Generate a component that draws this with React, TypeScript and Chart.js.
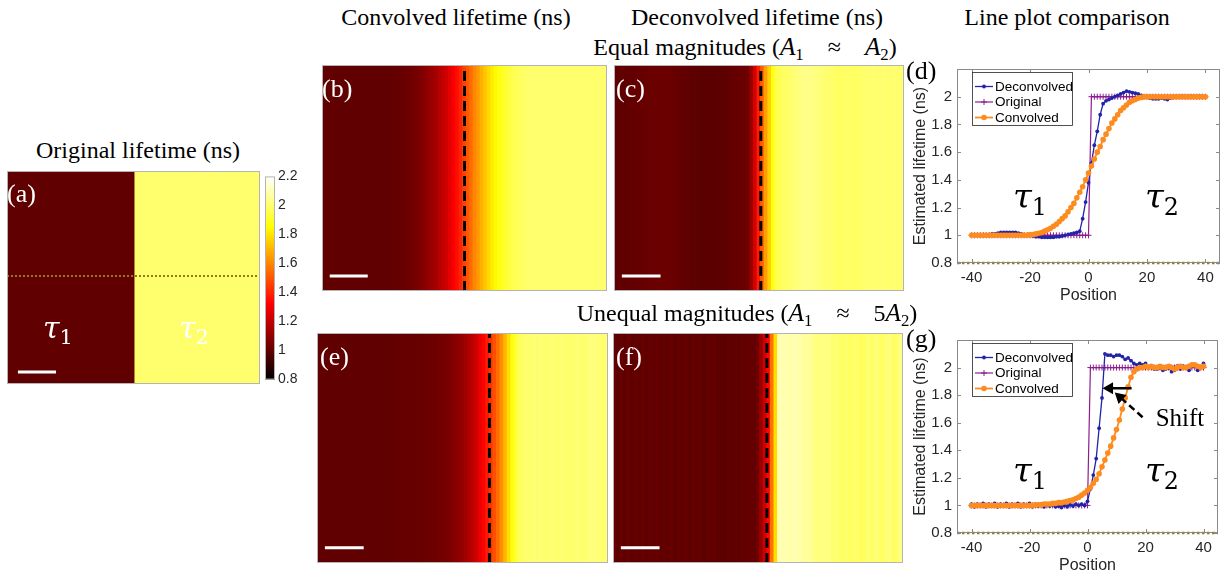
import React, { useEffect, useRef } from "react";
import { Chart, registerables } from "chart.js";

Chart.register(...registerables);

// ---------------- data ----------------
const positions = [
  -40, -39, -38, -37, -36, -35, -34, -33, -32, -31,
  -30, -29, -28, -27, -26, -25, -24, -23, -22, -21,
  -20, -19, -18, -17, -16, -15, -14, -13, -12, -11,
  -10, -9, -8, -7, -6, -5, -4, -3, -2, -1,
  0, 1, 2, 3, 4, 5, 6, 7, 8, 9,
  10, 11, 12, 13, 14, 15, 16, 17, 18, 19,
  20, 21, 22, 23, 24, 25, 26, 27, 28, 29,
  30, 31, 32, 33, 34, 35, 36, 37, 38, 39, 40,
];

const originalProfile = [
  1, 1, 1, 1, 1, 1, 1, 1, 1, 1,
  1, 1, 1, 1, 1, 1, 1, 1, 1, 1,
  1, 1, 1, 1, 1, 1, 1, 1, 1, 1,
  1, 1, 1, 1, 1, 1, 1, 1, 1, 1,
  1, 2, 2, 2, 2, 2, 2, 2, 2, 2,
  2, 2, 2, 2, 2, 2, 2, 2, 2, 2,
  2, 2, 2, 2, 2, 2, 2, 2, 2, 2,
  2, 2, 2, 2, 2, 2, 2, 2, 2, 2, 2,
];

// equal magnitudes (panels b, c, d)
const convolvedEqual = [
  1.0, 1.0, 1.0, 1.0, 1.0, 1.0, 1.0, 1.0, 1.0, 1.0,
  1.0, 1.0, 1.0, 1.0, 1.0, 1.0, 1.0, 1.0, 1.0, 1.0,
  1.005, 1.005, 1.01, 1.015, 1.02, 1.03, 1.04, 1.05, 1.065, 1.08,
  1.1, 1.12, 1.14, 1.17, 1.2, 1.23, 1.27, 1.31, 1.35, 1.4,
  1.45, 1.5, 1.55, 1.6, 1.64, 1.69, 1.73, 1.77, 1.81, 1.84,
  1.87, 1.9, 1.92, 1.94, 1.96, 1.97, 1.98, 1.99, 1.995, 2.0,
  2.0, 2.0, 2.0, 2.0, 2.0, 2.0, 2.0, 2.0, 2.0, 2.0,
  2.0, 2.0, 2.0, 2.0, 2.0, 2.0, 2.0, 2.0, 2.0, 2.0, 2.0,
];
const deconvolvedEqual = [
  1.0, 1.0, 1.0, 1.0, 1.005, 1.0, 1.005, 1.01, 1.01, 1.015,
  1.02, 1.02, 1.02, 1.02, 1.02, 1.02, 1.015, 1.01, 1.005, 1.0,
  1.0, 0.995, 0.99, 0.99, 0.985, 0.985, 0.985, 0.985, 0.985, 0.99,
  0.99, 0.995, 1.0, 1.005, 1.01, 1.015, 1.02, 1.03, 1.12, 1.24,
  1.38, 1.52, 1.65, 1.75, 1.87, 1.95, 1.97, 1.98, 1.99, 2.0,
  2.01, 2.02, 2.03, 2.04, 2.035, 2.03, 2.025, 2.02, 2.01, 2.0,
  2.0, 1.99, 1.985, 1.985, 1.985, 1.99, 1.985, 1.98, 1.99, 1.995,
  2.0, 2.0, 2.005, 2.0, 2.0, 2.005, 2.0, 2.0, 2.005, 2.0, 2.0,
];

// unequal magnitudes (panels e, f, g)
const convolvedUnequal = [
  1.0, 1.0, 1.0, 1.0, 1.0, 1.0, 1.0, 1.0, 1.0, 1.0,
  1.0, 1.0, 1.0, 1.0, 1.0, 1.0, 1.0, 1.0, 1.0, 1.0,
  1.0, 1.0, 1.005, 1.005, 1.005, 1.01, 1.01, 1.01, 1.015, 1.015,
  1.02, 1.02, 1.025, 1.03, 1.035, 1.04, 1.05, 1.06, 1.075, 1.09,
  1.11, 1.13, 1.16, 1.19, 1.23, 1.28, 1.33, 1.38, 1.43, 1.49,
  1.55, 1.62, 1.7, 1.78, 1.86, 1.93, 1.97, 1.99, 2.0, 2.0,
  2.01, 2.0, 2.01, 2.0, 2.0, 2.01, 2.0, 2.0, 2.01, 2.0,
  1.99, 2.0, 2.01, 2.0, 2.0, 2.01, 2.02, 2.02, 2.01, 2.0, 2.01,
];
const deconvolvedUnequal = [
  1.01, 0.99, 1.01, 0.995, 1.015, 0.99, 1.01, 0.995, 1.015, 0.99,
  1.01, 1.0, 1.015, 0.99, 1.01, 0.995, 1.015, 0.99, 1.01, 0.995,
  1.015, 0.99, 1.01, 0.995, 1.01, 0.99, 1.005, 0.995, 1.005, 0.99,
  0.995, 0.985, 1.0, 0.99, 1.005, 0.995, 1.01, 1.0, 1.01, 1.0,
  1.03, 1.12, 1.22, 1.34, 1.56, 1.78, 2.1, 2.09, 2.09, 2.08,
  2.09, 2.09, 2.08, 2.06, 2.07, 2.05, 2.03, 2.02, 2.03, 2.02,
  2.03, 2.0, 2.01, 1.99, 1.99, 2.0, 1.98, 1.99, 2.0, 1.97,
  1.98, 2.01, 1.99, 2.01, 2.0, 1.98, 2.01, 2.02, 1.98, 2.0, 2.03,
];

const yTicks = [0.8, 1, 1.2, 1.4, 1.6, 1.8, 2];
const xTicks = [-40, -20, 0, 20, 40];
const colorbarTicks = [0.8, 1, 1.2, 1.4, 1.6, 1.8, 2, 2.2];

// dashed edge markers on the lifetime maps (position units)
const edgeB = 0;
const edgeC = 0.5;
const edgeE = 7.5;
const edgeF = 2.5;

// line-profile row (dotted) and its trace on the line plots
const profileRowX = [-40.5, 40.5];
const profileRowY = [0.507, 0.507];
const profileLineX = [-45, 45];
const profileLineY = [0.8, 0.8];

// scale bars (position units / relative image height)
const scaleBarAX = [-37, -24.8];
const scaleBarAY = [0.056, 0.056];
const scaleBarX = [-38.3, -27.5];
const scaleBarY = [0.066, 0.066];

// "Shift" arrows on panel (g)
const shiftArrowX = [15.2, 7.6];
const shiftArrowY = [1.85, 1.85];
const shiftPointerX = [19.0, 11.2];
const shiftPointerY = [1.64, 1.786];

// ---------------- styling helpers ----------------
const SANS = "'Liberation Sans', Arial, Helvetica, sans-serif";
const SERIF = "'Liberation Serif', 'Times New Roman', serif";
const MATH = "'DejaVu Serif', 'Liberation Serif', serif";
const BLUE = "#2323a8";
const PURPLE = "#8c1d8f";
const ORANGE = "#fd8b1e";
const OLIVE = "#957a18";
const AXIS = "#262626";

Chart.defaults.font.family = SANS;
Chart.defaults.color = AXIS;

const clamp = (v: number) => Math.min(1, Math.max(0, v));
function hot(v: number): string {
  const t = clamp((v - 0.8) / 1.4);
  const r = clamp(t / 0.375);
  const g = clamp((t - 0.375) / 0.375);
  const b = clamp((t - 0.75) / 0.25);
  return `rgb(${Math.round(r * 255)},${Math.round(g * 255)},${Math.round(b * 255)})`;
}

const fmt = (v: any) => String(Math.round(Number(v) * 10) / 10);
const pts = (xs: number[], ys: number[]) => xs.map((x, i) => ({ x, y: ys[i] }));

const framePlugin = {
  id: "frame",
  afterDatasetsDraw(chart: any, _args: any, opts: any) {
    if (!opts || !opts.color) return;
    const { ctx, chartArea: a } = chart;
    ctx.save();
    ctx.strokeStyle = opts.color;
    ctx.lineWidth = 1;
    ctx.setLineDash([]);
    ctx.strokeRect(a.left + 0.5, a.top + 0.5, a.right - a.left - 1, a.bottom - a.top - 1);
    if (opts.ticks) {
      const len = 4;
      ctx.beginPath();
      const sx = chart.scales.x;
      const sy = chart.scales.y;
      sx.ticks.forEach((t: any) => {
        const p = Math.round(sx.getPixelForValue(t.value)) + 0.5;
        ctx.moveTo(p, a.bottom); ctx.lineTo(p, a.bottom - len);
        ctx.moveTo(p, a.top); ctx.lineTo(p, a.top + len);
      });
      sy.ticks.forEach((t: any) => {
        const p = Math.round(sy.getPixelForValue(t.value)) + 0.5;
        ctx.moveTo(a.left, p); ctx.lineTo(a.left + len, p);
        ctx.moveTo(a.right, p); ctx.lineTo(a.right - len, p);
      });
      ctx.stroke();
    }
    ctx.restore();
  },
};

const boxLegendPlugin = {
  id: "boxLegend",
  afterDraw(chart: any, _args: any, opts: any) {
    if (!opts || !opts.display) return;
    const { ctx, chartArea: a } = chart;
    const items = chart.data.datasets.filter((d: any) => d.inLegend);
    const x0 = a.left + 15;
    const y0 = a.top + 3;
    const w = 100;
    const h = 53;
    ctx.save();
    ctx.fillStyle = "#fff";
    ctx.fillRect(x0, y0, w, h);
    ctx.strokeStyle = AXIS;
    ctx.lineWidth = 0.8;
    ctx.strokeRect(x0 + 0.5, y0 + 0.5, w, h);
    items.forEach((d: any, i: number) => {
      const cy = a.top + 17.5 + i * 15.5;
      ctx.strokeStyle = d.borderColor;
      ctx.lineWidth = d.borderWidth;
      ctx.beginPath();
      ctx.moveTo(x0 + 3, cy);
      ctx.lineTo(x0 + 21, cy);
      ctx.stroke();
      const mx = x0 + 12;
      if (d.pointStyle === "cross") {
        ctx.lineWidth = 1;
        ctx.beginPath();
        ctx.moveTo(mx - 3, cy); ctx.lineTo(mx + 3, cy);
        ctx.moveTo(mx, cy - 3); ctx.lineTo(mx, cy + 3);
        ctx.stroke();
      } else {
        ctx.fillStyle = d.pointBackgroundColor;
        ctx.beginPath();
        ctx.arc(mx, cy, d.pointRadius, 0, Math.PI * 2);
        ctx.fill();
      }
      ctx.fillStyle = "#000";
      ctx.font = `13.5px ${SANS}`;
      ctx.textBaseline = "middle";
      ctx.fillText(d.label, x0 + 23, cy + 0.5);
    });
    ctx.restore();
  },
};

function heatmapConfig(
  profile: number[],
  edge: number | null,
  barX: number[],
  barY: number[],
  extra: any[] = []
) {
  const datasets: any[] = [
    {
      type: "bar",
      data: positions.map((x) => ({ x, y: [0, 1] })),
      backgroundColor: profile.map(hot),
      borderWidth: 0,
      barPercentage: 1,
      categoryPercentage: 1,
      inflateAmount: 0.6,
      order: 5,
    },
  ];
  if (edge !== null) {
    datasets.push({
      type: "line",
      data: [{ x: edge, y: 0 }, { x: edge, y: 1 }],
      borderColor: "#000",
      borderWidth: 3,
      borderDash: [10, 5],
      borderCapStyle: "butt",
      pointRadius: 0,
      order: 1,
    });
  }
  datasets.push({
    type: "line",
    data: pts(barX, barY),
    borderColor: "#fff",
    borderWidth: 3,
    pointRadius: 0,
    order: 1,
  });
  extra.forEach((d) => datasets.push(d));
  return {
    type: "bar",
    data: { datasets },
    options: {
      responsive: false,
      animation: false,
      events: [],
      layout: { padding: 0 },
      scales: {
        x: { type: "linear", min: -40.5, max: 40.5, offset: false, display: false },
        y: { min: 0, max: 1, display: false },
      },
      plugins: {
        legend: { display: false },
        tooltip: { enabled: false },
        frame: { color: "#b4b4b4" },
      },
    },
    plugins: [framePlugin],
  };
}

function colorbarConfig() {
  return {
    type: "bar",
    data: {
      labels: ["lifetime"],
      datasets: [
        {
          data: [[0.8, 2.2]],
          borderWidth: 0,
          barPercentage: 1,
          categoryPercentage: 1,
          backgroundColor: (c: any) => {
            const area = c.chart.chartArea;
            if (!area) return "#000";
            const g = c.chart.ctx.createLinearGradient(0, area.bottom, 0, area.top);
            g.addColorStop(0, hot(0.8));
            g.addColorStop(0.375, hot(0.8 + 0.375 * 1.4));
            g.addColorStop(0.75, hot(0.8 + 0.75 * 1.4));
            g.addColorStop(1, hot(2.2));
            return g;
          },
        },
      ],
    },
    options: {
      responsive: false,
      animation: false,
      events: [],
      layout: { padding: { top: 6, bottom: 7, left: 0, right: 0 } },
      scales: {
        x: { display: false },
        y: {
          position: "right",
          min: 0.8,
          max: 2.2,
          afterBuildTicks: (s: any) => {
            s.ticks = colorbarTicks.map((v) => ({ value: v }));
          },
          afterFit: (s: any) => {
            s.width = 35;
          },
          grid: { display: false, drawTicks: false, tickLength: 0 },
          border: { display: false },
          ticks: { font: { size: 14 }, color: AXIS, padding: 3, callback: fmt },
        },
      },
      plugins: {
        legend: { display: false },
        tooltip: { enabled: false },
        frame: { color: "#b4b4b4" },
      },
    },
    plugins: [framePlugin],
  };
}

function lineConfig(deconv: number[], conv: number[], extra: any[] = []) {
  const datasets: any[] = [
    {
      label: "Deconvolved",
      inLegend: true,
      data: pts(positions, deconv),
      borderColor: BLUE,
      backgroundColor: BLUE,
      pointBackgroundColor: BLUE,
      pointBorderColor: BLUE,
      borderWidth: 1.3,
      pointRadius: 1.9,
      pointBorderWidth: 0,
      pointStyle: "circle",
      order: 2,
    },
    {
      label: "Original",
      inLegend: true,
      data: pts(positions, originalProfile),
      borderColor: PURPLE,
      backgroundColor: PURPLE,
      pointBorderColor: PURPLE,
      borderWidth: 1.2,
      pointStyle: "cross",
      pointRadius: 3,
      pointBorderWidth: 1,
      order: 3,
    },
    {
      label: "Convolved",
      inLegend: true,
      data: pts(positions, conv),
      borderColor: ORANGE,
      backgroundColor: ORANGE,
      pointBackgroundColor: ORANGE,
      pointBorderColor: ORANGE,
      borderWidth: 1.8,
      pointRadius: 2.8,
      pointBorderWidth: 0,
      pointStyle: "circle",
      order: 1,
    },
    {
      label: "profile",
      data: pts(profileLineX, profileLineY),
      borderColor: OLIVE,
      borderWidth: 2.5,
      borderDash: [2.5, 2.5],
      pointRadius: 0,
      clip: false,
      order: 0,
    },
  ];
  extra.forEach((d) => datasets.push(d));
  return {
    type: "line",
    data: { datasets },
    options: {
      responsive: false,
      animation: false,
      events: [],
      layout: { padding: { top: 13, right: 5, bottom: 2, left: 0 } },
      elements: { line: { tension: 0 } },
      scales: {
        x: {
          type: "linear",
          min: -45,
          max: 45,
          afterBuildTicks: (s: any) => {
            s.ticks = xTicks.map((v) => ({ value: v }));
          },
          afterFit: (s: any) => {
            s.height = 45;
          },
          grid: { display: false, drawTicks: false, tickLength: 0 },
          border: { display: false },
          ticks: { font: { size: 15 }, color: AXIS, padding: 6, maxRotation: 0, callback: fmt },
          title: {
            display: true,
            text: "Position",
            font: { size: 16 },
            color: AXIS,
            padding: { top: 0, bottom: 3 },
          },
        },
        y: {
          min: 0.8,
          max: 2.2,
          afterBuildTicks: (s: any) => {
            s.ticks = yTicks.map((v) => ({ value: v }));
          },
          afterFit: (s: any) => {
            s.width = 52;
          },
          grid: { display: false, drawTicks: false, tickLength: 0 },
          border: { display: false },
          ticks: { font: { size: 15 }, color: AXIS, padding: 5, callback: fmt },
          title: {
            display: true,
            text: "Estimated lifetime (ns)",
            font: { size: 16 },
            color: AXIS,
            padding: { top: 6, bottom: 0 },
          },
        },
      },
      plugins: {
        legend: { display: false },
        tooltip: { enabled: false },
        frame: { color: "#8a8a8a", ticks: true },
        boxLegend: { display: true },
      },
    },
    plugins: [framePlugin, boxLegendPlugin],
  };
}

type Box = { left: number; top: number; width: number; height: number };

function ChartCanvas({ box, build }: { box: Box; build: () => any }) {
  const ref = useRef<HTMLCanvasElement | null>(null);
  useEffect(() => {
    if (!ref.current) return;
    const chart = new Chart(ref.current, build());
    return () => chart.destroy();
  }, []);
  return (
    <canvas
      ref={ref}
      width={box.width}
      height={box.height}
      style={{ position: "absolute", left: box.left, top: box.top, width: box.width, height: box.height }}
    />
  );
}

function Txt({
  x, y, size = 24, color = "#000", anchor = "center", family = SERIF, children,
}: any) {
  return (
    <div
      style={{
        position: "absolute",
        left: x,
        top: y,
        transform: anchor === "center" ? "translate(-50%, -50%)" : "translate(0, -50%)",
        fontSize: size,
        color,
        fontFamily: family,
        whiteSpace: "nowrap",
        lineHeight: 1,
      }}
    >
      {children}
    </div>
  );
}

const Sub = ({ children }: any) => (
  <span style={{ fontSize: "0.7em", position: "relative", top: "0.3em" }}>{children}</span>
);
const Tau = ({ n }: any) => (
  <span style={{ fontFamily: MATH }}>
    <span style={{ fontStyle: "italic" }}>τ</span>
    <Sub>{n}</Sub>
  </span>
);
const A = ({ n }: any) => (
  <span>
    <span style={{ fontStyle: "italic", fontSize: "1.05em" }}>A</span>
    <Sub>{n}</Sub>
  </span>
);

export default function App() {
  const pointerExtra = [
    {
      data: pts(shiftArrowX, shiftArrowY),
      borderColor: "#000",
      backgroundColor: "#000",
      borderWidth: 2.5,
      pointRadius: [0, 7],
      pointStyle: "triangle",
      pointRotation: -90,
      pointBackgroundColor: "#000",
      pointBorderWidth: 0,
      order: -1,
    },
    {
      data: pts(shiftPointerX, shiftPointerY),
      borderColor: "#000",
      backgroundColor: "#000",
      borderWidth: 2.5,
      borderDash: [7, 4],
      pointRadius: [0, 7],
      pointStyle: "triangle",
      pointRotation: -48,
      pointBackgroundColor: "#000",
      pointBorderWidth: 0,
      order: -1,
    },
  ];
  const rowExtra = [
    {
      type: "line",
      data: pts(profileRowX, profileRowY),
      borderColor: OLIVE,
      borderWidth: 2,
      borderDash: [2, 2],
      pointRadius: 0,
      order: 2,
    },
  ];

  return (
    <div
      style={{
        position: "absolute",
        left: 0,
        top: 0,
        width: 1228,
        height: 576,
        background: "#fff",
        overflow: "hidden",
        fontFamily: SERIF,
      }}
    >
      <ChartCanvas
        box={{ left: 7, top: 171, width: 253, height: 213 }}
        build={() => heatmapConfig(originalProfile, null, scaleBarAX, scaleBarAY, rowExtra)}
      />
      <ChartCanvas box={{ left: 265, top: 165, width: 45, height: 226 }} build={colorbarConfig} />
      <ChartCanvas
        box={{ left: 322, top: 65, width: 285, height: 226 }}
        build={() => heatmapConfig(convolvedEqual, edgeB, scaleBarX, scaleBarY)}
      />
      <ChartCanvas
        box={{ left: 614, top: 65, width: 290, height: 226 }}
        build={() => heatmapConfig(deconvolvedEqual, edgeC, scaleBarX, scaleBarY)}
      />
      <ChartCanvas
        box={{ left: 317, top: 333, width: 291, height: 230 }}
        build={() => heatmapConfig(convolvedUnequal, edgeE, scaleBarX, scaleBarY)}
      />
      <ChartCanvas
        box={{ left: 613, top: 333, width: 290, height: 230 }}
        build={() => heatmapConfig(deconvolvedUnequal, edgeF, scaleBarX, scaleBarY)}
      />
      <ChartCanvas
        box={{ left: 905, top: 55, width: 320, height: 255 }}
        build={() => lineConfig(deconvolvedEqual, convolvedEqual)}
      />
      <ChartCanvas
        box={{ left: 905, top: 326, width: 320, height: 254 }}
        build={() => lineConfig(deconvolvedUnequal, convolvedUnequal, pointerExtra)}
      />

      {/* titles */}
      <Txt x={138} y={150}>Original lifetime (ns)</Txt>
      <Txt x={456} y={17}>Convolved lifetime (ns)</Txt>
      <Txt x={757} y={17}>Deconvolved lifetime (ns)</Txt>
      <Txt x={1067} y={17}>Line plot comparison</Txt>
      <Txt x={745} y={47}>
        Equal magnitudes (<A n="1" />{"\u2003≈\u2003"}<A n="2" />)
      </Txt>
      <Txt x={747} y={313}>
        Unequal magnitudes (<A n="1" />{"\u2003≈\u2003"}5<A n="2" />)
      </Txt>

      {/* panel letters */}
      <Txt x={7} y={194} size={26} color="#fff" anchor="left">(a)</Txt>
      <Txt x={322} y={89} size={26} color="#fff" anchor="left">(b)</Txt>
      <Txt x={616} y={89} size={26} color="#fff" anchor="left">(c)</Txt>
      <Txt x={320} y={357} size={26} color="#fff" anchor="left">(e)</Txt>
      <Txt x={616} y={357} size={26} color="#fff" anchor="left">(f)</Txt>
      <Txt x={906} y={71} size={26} anchor="left">(d)</Txt>
      <Txt x={906} y={339} size={26} anchor="left">(g)</Txt>

      {/* tau labels */}
      <Txt x={58} y={328} size={30} color="#fff"><Tau n="1" /></Txt>
      <Txt x={194} y={328} size={30} color="#fff"><Tau n="2" /></Txt>
      <Txt x={1030} y={196} size={34}><Tau n="1" /></Txt>
      <Txt x={1162} y={196} size={34}><Tau n="2" /></Txt>
      <Txt x={1030} y={470} size={34}><Tau n="1" /></Txt>
      <Txt x={1162} y={470} size={34}><Tau n="2" /></Txt>
      <Txt x={1180} y={417} size={25}>Shift</Txt>
    </div>
  );
}
